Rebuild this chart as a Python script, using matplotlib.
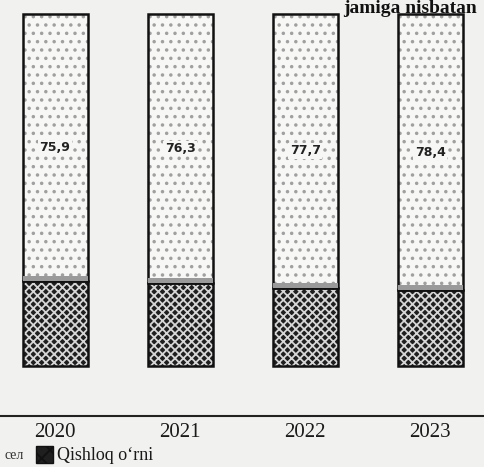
import numpy as np
import matplotlib.pyplot as plt
from matplotlib.patches import Rectangle

plt.rcParams["hatch.linewidth"] = 1.3

# data (share, %)
years = ["2020", "2021", "2022", "2023"]
urban = [75.9, 76.3, 77.7, 78.4]          # upper dotted segment, labelled
rural = [24.1, 23.7, 22.3, 21.6]          # lower dark segment
labels = ["75,9", "76,3", "77,7", "78,4"]

fig = plt.figure(figsize=(4.84, 4.67), dpi=100)
fig.patch.set_facecolor("#f1f1ef")
ax = fig.add_axes([0, 0.11, 1, 0.89])
ax.set_facecolor("#f1f1ef")

x = np.arange(len(years))
w = 0.52

# lower segment, dark checker pattern
ax.bar(x, rural, w, color="#1f1f1f", edgecolor="#d6d6d6", hatch="xxxx", linewidth=0)
ax.bar(x, rural, w, fill=False, edgecolor="#111111", linewidth=1.8)
# upper segment, light dotted pattern
ax.bar(x, urban, w, bottom=rural, color="#f7f7f5", edgecolor="#a0a0a0", hatch="..", linewidth=0)
ax.bar(x, urban, w, bottom=rural, fill=False, edgecolor="#111111", linewidth=1.8)
# grey band where the two parts meet
ax.bar(x, 1.4, w, bottom=np.array(rural), color="#9a9a9a", linewidth=0)

for xi, r, u, lab in zip(x, rural, urban, labels):
    ax.text(xi, r + u / 2, lab, ha="center", va="center", fontsize=9,
            fontweight="bold", color="#222222", family="DejaVu Sans",
            bbox=dict(facecolor="#f7f7f5", edgecolor="none", pad=1.0))

ax.set_xlim(-0.44, 3.43)
ax.set_ylim(-14, 104)
ax.set_xticks(x)
ax.set_xticklabels(years, fontsize=15, family="Liberation Serif", color="#1a1a1a")
ax.tick_params(axis="x", length=0, pad=5)
ax.set_yticks([])
for s in ["top", "left", "right"]:
    ax.spines[s].set_visible(False)
ax.spines["bottom"].set_linewidth(1.5)
ax.spines["bottom"].set_color("#222222")

# title line at the top edge of the page
fig.text(0.985, 0.982, "jamiga nisbatan", ha="right", va="center", fontsize=14,
         fontweight="bold", family="Liberation Serif", color="#111111")

# legend line at the bottom
fig.text(0.01, 0.025, "сел", ha="left", va="center", fontsize=10,
         family="Liberation Serif", color="#333333")
fig.patches.append(Rectangle((0.075, 0.008), 0.035, 0.036, transform=fig.transFigure,
                             facecolor="#1f1f1f", edgecolor="#111111",
                             hatch="xx", figure=fig))
fig.text(0.118, 0.025, "Qishloq o‘rni", ha="left", va="center", fontsize=13,
         family="Liberation Serif", color="#1a1a1a")

fig.savefig("out.png", dpi=100, facecolor=fig.get_facecolor())
